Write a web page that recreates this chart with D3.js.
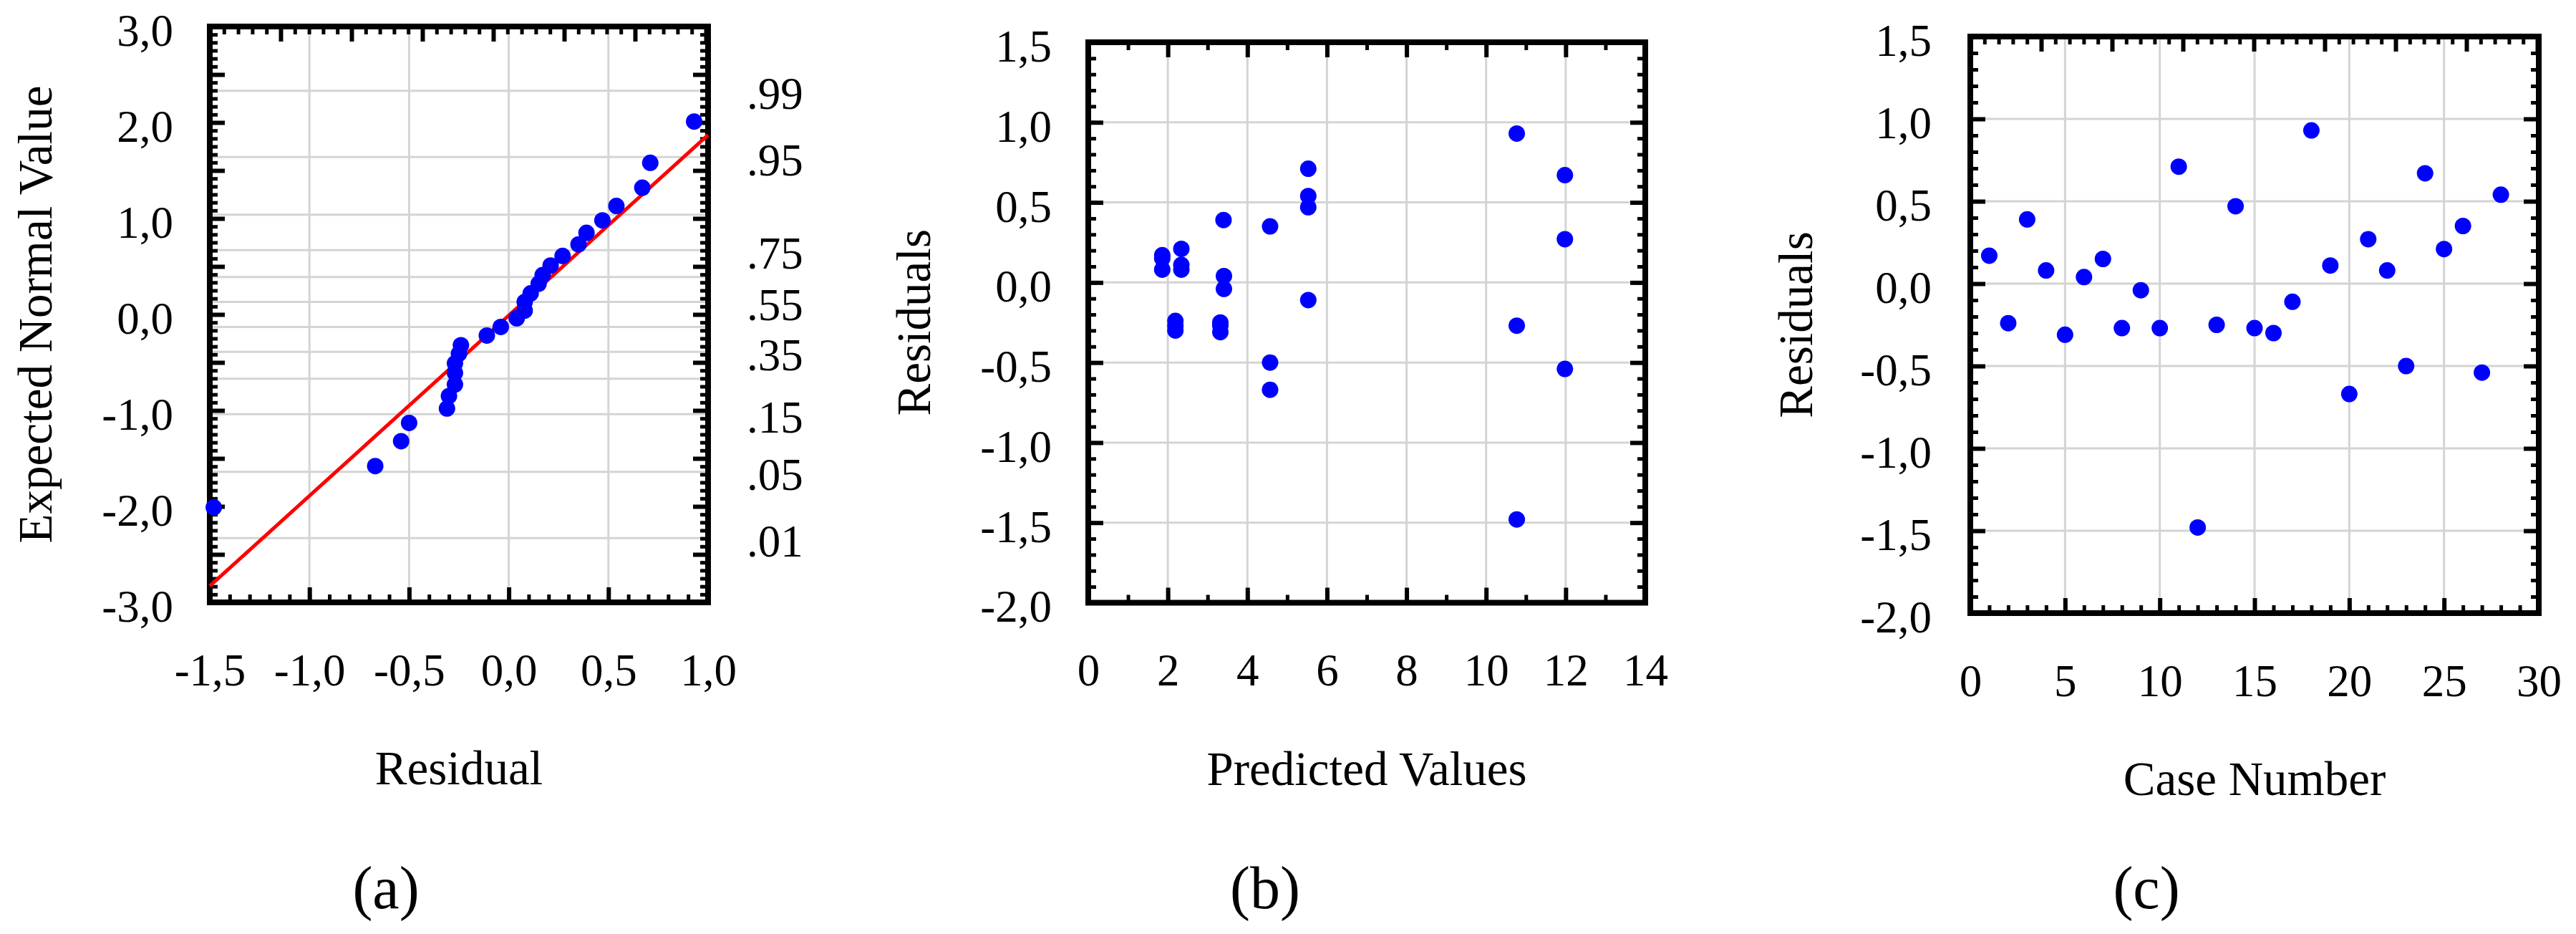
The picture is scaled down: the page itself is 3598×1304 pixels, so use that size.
<!DOCTYPE html>
<html>
<head>
<meta charset="utf-8">
<script src="https://cdn.jsdelivr.net/npm/d3@7"></script>
<style>
  body { margin: 0; background: #fff; }
  text { font-family: "Liberation Serif", "Times New Roman", serif; fill: #000; }
  .tick-label { font-size: 63px; }
  .title { font-size: 67px; }
  .caption { font-size: 84px; }
</style>
</head>
<body>
<div id="chart"></div>
<script>
// residuals by case number (c), predicted values (b)
const caseNumber = [1, 2, 3, 4, 5, 6, 7, 8, 9, 10, 11, 12, 13, 14, 15, 16, 17, 18, 19, 20, 21, 22, 23, 24, 25, 26, 27, 28];
const residuals = [0.17, -0.24, 0.39, 0.08, -0.31, 0.04, 0.15, -0.27, -0.04, -0.27, 0.71, -1.48, -0.25, 0.47,
                   -0.27, -0.30, -0.11, 0.93, 0.11, -0.67, 0.27, 0.08, -0.50, 0.67, 0.21, 0.35, -0.54, 0.54];
const predicted = [1.86, 2.19, 3.40, 2.34, 3.32, 3.41, 1.86, 2.19, 3.41, 10.77, 5.53, 10.77, 3.32, 5.53,
                   3.32, 2.19, 5.53, 10.77, 2.34, 4.57, 11.98, 1.86, 4.57, 11.98, 2.34, 4.57, 11.98, 5.53];

// normal probability plot (a)
const normalResidual = [-1.48, -0.67, -0.54, -0.50, -0.31, -0.30, -0.27, -0.27, -0.27, -0.25, -0.24, -0.11, -0.04, 0.04,
                        0.08, 0.08, 0.11, 0.15, 0.17, 0.21, 0.27, 0.35, 0.39, 0.47, 0.54, 0.67, 0.71, 0.93];
const expectedNormal = [-2.01, -1.58, -1.32, -1.13, -0.98, -0.85, -0.73, -0.61, -0.51, -0.41, -0.32, -0.22, -0.13, -0.04,
                        0.04, 0.13, 0.22, 0.32, 0.41, 0.51, 0.61, 0.73, 0.85, 0.98, 1.13, 1.32, 1.58, 2.01];
const fitLineX = [-1.5, 1.0];
const fitLineY = [-2.83, 1.87];

// probability scale on the right of (a)
const probGridZ = [2.33, 1.64, 1.04, 0.67, 0.39, 0.13, -0.13, -0.39, -0.67, -1.04, -1.64, -2.33];
const probLabelZ = [2.33, 1.64, 0.67, 0.13, -0.39, -1.04, -1.64, -2.33];
const probLabels = [".99", ".95", ".75", ".55", ".35", ".15", ".05", ".01"];

// tick labels
const aXTicks = [-1.5, -1.0, -0.5, 0.0, 0.5, 1.0];
const aYTicks = [-3, -2, -1, 0, 1, 2, 3];
const bXTicks = [0, 2, 4, 6, 8, 10, 12, 14];
const cXTicks = [0, 5, 10, 15, 20, 25, 30];
const resTicks = [-2.0, -1.5, -1.0, -0.5, 0.0, 0.5, 1.0, 1.5];

// ----------------------------------------------------------

const width = 3598;
const height = 1304;
const gridColor = "#d4d4d4";
const dotColor = "#0000ff";

const svg = d3.select("div#chart").append("svg").attr("width", width).attr("height", height);

const comma = d3.formatLocale({ decimal: ",", thousands: ".", grouping: [3], currency: ["", ""], minus: "-" }).format(".1f");

// inward tick marks on the frame
function tickMarks(g, axis, pos, values, len, w) {
    const a = g.append("g").attr("transform", pos)
        .call(axis.tickValues(values).tickSizeInner(-len).tickSizeOuter(0).tickFormat(""));
    a.select(".domain").remove();
    a.selectAll(".tick line").attr("stroke", "#000").attr("stroke-width", w);
}

function tickLabels(g, axis, pos, values, pad, f, dy) {
    const a = g.append("g").attr("transform", pos)
        .call(axis.tickValues(values).tickSize(0).tickPadding(pad).tickFormat(f));
    a.select(".domain").remove();
    a.attr("font-family", null).attr("font-size", null);
    a.selectAll("text").attr("class", "tick-label");
    if (dy) a.selectAll("text").attr("dy", dy);
}

function steps(lo, hi, step) {
    return d3.range(Math.round((hi - lo) / step) + 1).map(i => lo + i * step);
}

function panel(cfg) {
    const g = svg.append("g");
    const x = d3.scaleLinear().domain(cfg.xDomain).range([cfg.left, cfg.right]);
    const y = d3.scaleLinear().domain(cfg.yDomain).range([cfg.bottom, cfg.top]);

    // grid
    g.append("g").selectAll("line").data(cfg.xGrid).join("line")
        .attr("x1", d => x(d)).attr("x2", d => x(d)).attr("y1", cfg.top).attr("y2", cfg.bottom)
        .attr("stroke", gridColor).attr("stroke-width", 3);
    g.append("g").selectAll("line").data(cfg.yGrid).join("line")
        .attr("y1", d => y(d)).attr("y2", d => y(d)).attr("x1", cfg.left).attr("x2", cfg.right)
        .attr("stroke", gridColor).attr("stroke-width", 3);

    // frame
    g.append("rect").attr("x", cfg.left).attr("y", cfg.top)
        .attr("width", cfg.right - cfg.left).attr("height", cfg.bottom - cfg.top)
        .attr("fill", "none").attr("stroke", "#000").attr("stroke-width", 8);

    // ticks: bottom / left / right on the data scales, top on its own scale
    const xTop = cfg.topStep ? d3.scaleLinear().domain([0, (cfg.right - cfg.left) / cfg.topStep]).range([cfg.left, cfg.right]) : x;
    const topMajor = cfg.topStep ? steps(0, Math.floor(xTop.domain()[1]), 1) : cfg.xMajor;
    const topMinor = cfg.topStep ? steps(0, Math.floor(xTop.domain()[1] * 5) / 5, 0.2) : cfg.xMinor;

    tickMarks(g, d3.axisBottom(x), `translate(0,${cfg.bottom})`, cfg.xMinor, 11, 5);
    tickMarks(g, d3.axisBottom(x), `translate(0,${cfg.bottom})`, cfg.xMajor, 21, 6);
    tickMarks(g, d3.axisTop(xTop), `translate(0,${cfg.top})`, topMinor, 11, 5);
    tickMarks(g, d3.axisTop(xTop), `translate(0,${cfg.top})`, topMajor, 21, 6);
    tickMarks(g, d3.axisLeft(y), `translate(${cfg.left},0)`, cfg.yMinor, 11, 5);
    tickMarks(g, d3.axisLeft(y), `translate(${cfg.left},0)`, cfg.yMajor, 21, 6);
    tickMarks(g, d3.axisRight(y), `translate(${cfg.right},0)`, cfg.yMinor, 11, 5);
    tickMarks(g, d3.axisRight(y), `translate(${cfg.right},0)`, cfg.yMajor, 21, 6);

    // labels
    tickLabels(g, d3.axisBottom(x), `translate(0,${cfg.bottom})`, cfg.xLabels, 71, cfg.xFormat);
    tickLabels(g, d3.axisLeft(y), `translate(${cfg.left},0)`, cfg.yLabels, cfg.yPad, comma, "0.42em");

    // axis titles
    g.append("text").attr("class", "title").attr("text-anchor", "middle")
        .attr("x", (cfg.left + cfg.right) / 2).attr("y", cfg.bottom + 254)
        .text(cfg.xTitle);
    g.append("text").attr("class", "title").attr("text-anchor", "middle")
        .attr("transform", `translate(${cfg.left - 221},${(cfg.top + cfg.bottom) / 2}) rotate(-90)`)
        .text(cfg.yTitle);

    g.append("text").attr("class", "caption").attr("text-anchor", "middle")
        .attr("x", cfg.captionX).attr("y", 1268).text(cfg.caption);

    return { g, x, y };
}

// (a) normal probability plot
const pa = panel({
    left: 293, right: 989, top: 37, bottom: 841,
    xDomain: [-1.5, 1.0], yDomain: [-3, 3],
    xGrid: [-1.0, -0.5, 0.0, 0.5], yGrid: probGridZ,
    xMajor: aXTicks, xMinor: steps(-1.5, 1.0, 0.1),
    yMajor: steps(-3, 3, 0.5), yMinor: steps(-3, 3, 0.5 / 6),
    topStep: 99,
    xLabels: aXTicks, xFormat: comma, yLabels: aYTicks, yPad: 51,
    xTitle: "Residual", yTitle: "Expected Normal Value",
    caption: "(a)", captionX: 539
});

tickLabels(pa.g, d3.axisRight(pa.y), `translate(989,0)`, probLabelZ, 54,
    (d, i) => probLabels[i], "0.4em");

const fitData = fitLineX.map((d, i) => ({ x: d, y: fitLineY[i] }));
pa.g.append("path")
    .datum(fitData)
    .attr("d", d3.line().x(d => pa.x(d.x)).y(d => pa.y(d.y)))
    .attr("fill", "none").attr("stroke", "#ff0000").attr("stroke-width", 5);

pa.g.append("g").selectAll("circle")
    .data(normalResidual.map((d, i) => ({ r: d, z: expectedNormal[i] })))
    .join("circle")
    .attr("cx", d => pa.x(d.r)).attr("cy", d => pa.y(d.z)).attr("r", 11.5)
    .attr("fill", dotColor);

// (b) residuals vs predicted
const pb = panel({
    left: 1520, right: 2298, top: 59, bottom: 841.5,
    xDomain: [0, 14], yDomain: [-2, 1.5],
    xGrid: [2, 4, 6, 8, 10, 12], yGrid: [-1.5, -1.0, -0.5, 0.0, 0.5, 1.0],
    xMajor: bXTicks, xMinor: steps(0, 14, 1),
    yMajor: resTicks, yMinor: steps(-2, 1.5, 0.1),
    xLabels: bXTicks, xFormat: d3.format("d"), yLabels: resTicks, yPad: 51,
    xTitle: "Predicted Values", yTitle: "Residuals",
    caption: "(b)", captionX: 1767
});

pb.g.append("g").selectAll("circle")
    .data(predicted.map((d, i) => ({ p: d, r: residuals[i] })))
    .join("circle")
    .attr("cx", d => pb.x(d.p)).attr("cy", d => pb.y(d.r)).attr("r", 11.5)
    .attr("fill", dotColor);

// (c) residuals vs case number
const pc = panel({
    left: 2752, right: 3546, top: 51, bottom: 856,
    xDomain: [0, 30], yDomain: [-2, 1.5],
    xGrid: [5, 10, 15, 20, 25], yGrid: [-1.5, -1.0, -0.5, 0.0, 0.5, 1.0],
    xMajor: cXTicks, xMinor: steps(0, 30, 1),
    yMajor: resTicks, yMinor: steps(-2, 1.5, 0.1),
    topStep: 99,
    xLabels: cXTicks, xFormat: d3.format("d"), yLabels: resTicks, yPad: 54,
    xTitle: "Case Number", yTitle: "Residuals",
    caption: "(c)", captionX: 2998
});

pc.g.append("g").selectAll("circle")
    .data(caseNumber.map((d, i) => ({ n: d, r: residuals[i] })))
    .join("circle")
    .attr("cx", d => pc.x(d.n)).attr("cy", d => pc.y(d.r)).attr("r", 11.5)
    .attr("fill", dotColor);
</script>
</body>
</html>
